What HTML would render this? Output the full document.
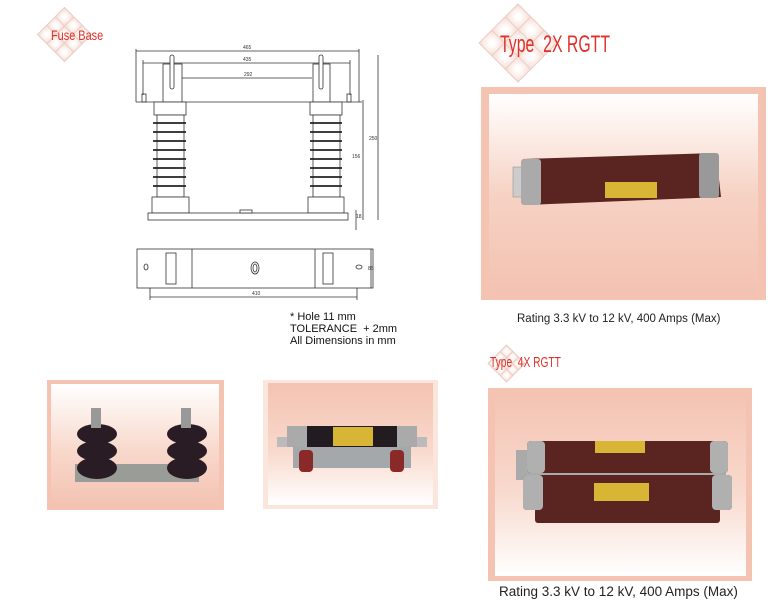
<!DOCTYPE html>
<html><head><meta charset="utf-8"><style>
*{margin:0;padding:0}
body{width:780px;height:600px;position:relative;background:#fff;overflow:hidden;font-family:"Liberation Sans",sans-serif}
.dia{position:absolute;transform:rotate(45deg);display:grid;grid-template-columns:1fr 1fr 1fr;gap:1px;background:#e8cfc8;border:1px solid #e8cfc8}
.dia div{background:radial-gradient(circle,#fff 20%,#f8ddd5 100%)}
.t{position:absolute;color:#e0302a;transform-origin:0 0;white-space:nowrap;line-height:1}
.cap{position:absolute;font-size:11.5px;color:#222;white-space:nowrap}
.pan{position:absolute}
</style></head><body>

<div class="dia" style="left:45px;top:15px;width:37px;height:37px"><div></div><div></div><div></div><div></div><div></div><div></div><div></div><div></div><div></div></div>
<div class="t" style="left:51px;top:28px;font-size:14px;transform:scaleX(0.78)">Fuse Base</div>

<div class="dia" style="left:490px;top:15px;width:54px;height:54px"><div></div><div></div><div></div><div></div><div></div><div></div><div></div><div></div><div></div></div>
<div class="t" style="left:500px;top:33px;font-size:24px;transform:scaleX(0.66)">Type&nbsp; 2X RGTT</div>

<div class="dia" style="left:493px;top:350px;width:25px;height:25px"><div></div><div></div><div></div><div></div><div></div><div></div><div></div><div></div><div></div></div>
<div class="t" style="left:490px;top:355px;font-size:15px;transform:scaleX(0.68)">Type&nbsp; 4X RGTT</div>

<svg style="position:absolute;left:0;top:0" width="780" height="600">
<g stroke="#333" stroke-width="0.8" fill="none">
<line x1="136" y1="51" x2="359" y2="51"/><line x1="136" y1="49" x2="136" y2="102"/>
<line x1="359" y1="49" x2="359" y2="102"/>
<line x1="143" y1="63" x2="350" y2="63"/><line x1="143" y1="60" x2="143" y2="95"/><line x1="350" y1="60" x2="350" y2="95"/>
<line x1="182" y1="78" x2="312" y2="78"/>
<line x1="136" y1="102" x2="362" y2="102"/>
<rect x="163" y="64" width="19" height="38" fill="#fff"/>
<rect x="170" y="55" width="4" height="34" rx="2" fill="#fff"/>
<rect x="154" y="102" width="32" height="13" fill="#fff"/>
<rect x="157" y="115" width="27" height="82" fill="#fff"/>
<rect x="152" y="197" width="37" height="16" fill="#fff"/>
<rect x="313" y="64" width="17" height="38" fill="#fff"/>
<rect x="319" y="55" width="4" height="34" rx="2" fill="#fff"/>
<rect x="310" y="102" width="32" height="13" fill="#fff"/>
<rect x="313" y="115" width="27" height="82" fill="#fff"/>
<rect x="308" y="197" width="36" height="16" fill="#fff"/>
<rect x="148" y="213" width="200" height="7" fill="#fff"/>
<rect x="240" y="210" width="12" height="3" fill="#fff"/>
<rect x="142" y="94" width="4" height="8"/><rect x="347" y="94" width="4" height="8"/>
<line x1="363" y1="100" x2="363" y2="220"/><line x1="378" y1="55" x2="378" y2="220"/>
<line x1="356" y1="210" x2="356" y2="230"/>
<rect x="137" y="249" width="236" height="39" fill="#fff"/>
<line x1="192" y1="249" x2="192" y2="288"/><line x1="315" y1="249" x2="315" y2="288"/>
<rect x="166" y="253" width="10" height="31"/><rect x="323" y="253" width="10" height="31"/>
<ellipse cx="255" cy="268" rx="4" ry="6"/><ellipse cx="255" cy="268" rx="2" ry="4"/>
<ellipse cx="146" cy="267" rx="2" ry="3"/><ellipse cx="359" cy="267" rx="3" ry="2"/>
<line x1="150" y1="297" x2="357" y2="297"/><line x1="150" y1="288" x2="150" y2="300"/><line x1="357" y1="288" x2="357" y2="300"/>
<line x1="371" y1="249" x2="371" y2="288"/>
</g>
<g stroke="#222" stroke-width="1.8">
<line x1="153" y1="123" x2="186" y2="123"/><line x1="153" y1="132" x2="186" y2="132"/><line x1="153" y1="141" x2="186" y2="141"/><line x1="153" y1="150" x2="186" y2="150"/><line x1="153" y1="159" x2="186" y2="159"/><line x1="153" y1="168" x2="186" y2="168"/><line x1="153" y1="177" x2="186" y2="177"/><line x1="153" y1="186" x2="186" y2="186"/>
<line x1="310" y1="123" x2="342" y2="123"/><line x1="310" y1="132" x2="342" y2="132"/><line x1="310" y1="141" x2="342" y2="141"/><line x1="310" y1="150" x2="342" y2="150"/><line x1="310" y1="159" x2="342" y2="159"/><line x1="310" y1="168" x2="342" y2="168"/><line x1="310" y1="177" x2="342" y2="177"/><line x1="310" y1="186" x2="342" y2="186"/>
</g>
<g font-size="5" fill="#333" font-family="Liberation Sans">
<text x="243" y="49">465</text><text x="243" y="61">435</text><text x="244" y="76">292</text>
<text x="352" y="158">156</text><text x="369" y="140">250</text><text x="356" y="218">18</text>
<text x="252" y="295">410</text><text x="368" y="270">85</text>
</g>
</svg>

<div style="position:absolute;left:290px;top:311px;font-size:11px;line-height:12px;color:#111">* Hole 11 mm<br>TOLERANCE&nbsp; + 2mm<br>All Dimensions in mm</div>

<div class="pan" style="left:481px;top:87px;width:285px;height:213px;background:#f4c3b2">
<div style="position:absolute;left:8px;top:7px;right:8px;bottom:4px;background:linear-gradient(#fff,#f6d2c4 50%,#f3c2b1)"></div></div>
<svg style="position:absolute;left:481px;top:87px" width="285" height="213">
<rect x="32" y="80" width="12" height="30" fill="#ccc" stroke="#888" stroke-width="0.5"/>
<rect x="225" y="74" width="12" height="30" fill="#ccc" stroke="#888" stroke-width="0.5"/>
<polygon points="42,72 235,66 240,110 45,118" fill="#5a2420"/>
<rect x="40" y="72" width="20" height="46" rx="3" fill="#aaa"/>
<rect x="218" y="66" width="20" height="45" rx="3" fill="#999"/>
<rect x="124" y="95" width="52" height="16" fill="#d9b535"/>
</svg>
<div class="cap" style="left:517px;top:313px">Rating 3.3 kV to 12 kV, 400 Amps (Max)</div>

<div class="pan" style="left:488px;top:388px;width:264px;height:193px;background:#f4c3b2">
<div style="position:absolute;left:7px;top:4px;right:6px;bottom:5px;background:linear-gradient(#f4c3b2,#f8dace 55%,#fff)"></div></div>
<svg style="position:absolute;left:488px;top:388px" width="264" height="193">
<rect x="28" y="62" width="210" height="30" fill="#aaa"/>
<rect x="47" y="120" width="185" height="15" rx="3" fill="#5a2420"/>
<rect x="39" y="53" width="201" height="32" rx="4" fill="#5a2420"/>
<rect x="39" y="53" width="18" height="32" rx="4" fill="#b0b0b0"/><rect x="222" y="53" width="18" height="32" rx="4" fill="#b0b0b0"/>
<rect x="35" y="87" width="209" height="35" rx="4" fill="#5a2420"/>
<rect x="35" y="87" width="20" height="35" rx="4" fill="#b0b0b0"/><rect x="224" y="87" width="20" height="35" rx="4" fill="#b0b0b0"/>
<rect x="107" y="53" width="50" height="12" fill="#d9b535"/>
<rect x="106" y="95" width="55" height="18" fill="#d9b535"/>
</svg>
<div class="cap" style="left:499px;top:584px;font-size:13.5px">Rating 3.3 kV to 12 kV, 400 Amps (Max)</div>

<div class="pan" style="left:47px;top:380px;width:177px;height:130px;background:#f4c3b2">
<div style="position:absolute;left:4px;top:4px;right:5px;bottom:3px;background:linear-gradient(#fff,#f8d8cb 55%,#f3c2b1)"></div></div>
<svg style="position:absolute;left:47px;top:380px" width="177" height="130">
<rect x="28" y="84" width="124" height="18" fill="#9a9c98"/>
<ellipse cx="50" cy="54" rx="20" ry="10" fill="#2a1c24"/><ellipse cx="50" cy="71" rx="20" ry="10" fill="#2a1c24"/><ellipse cx="50" cy="88" rx="20" ry="11" fill="#2a1c24"/>
<ellipse cx="140" cy="54" rx="20" ry="10" fill="#2a1c24"/><ellipse cx="140" cy="71" rx="20" ry="10" fill="#2a1c24"/><ellipse cx="140" cy="88" rx="20" ry="11" fill="#2a1c24"/>
<rect x="44" y="28" width="10" height="20" fill="#999"/><rect x="134" y="28" width="10" height="20" fill="#999"/>
</svg>

<div class="pan" style="left:263px;top:380px;width:175px;height:129px;background:#fbe6de">
<div style="position:absolute;left:5px;top:3px;right:5px;bottom:4px;background:linear-gradient(#f4c3b2,#f8d8cb 55%,#fff)"></div></div>
<svg style="position:absolute;left:263px;top:380px" width="175" height="129">
<rect x="30" y="66" width="118" height="22" fill="#a5a8aa"/>
<rect x="36" y="70" width="14" height="22" rx="4" fill="#8a2a28"/><rect x="127" y="70" width="14" height="22" rx="4" fill="#8a2a28"/>
<rect x="14" y="57" width="150" height="10" fill="#bbb"/>
<rect x="24" y="46" width="130" height="21" fill="#221c20"/>
<rect x="24" y="46" width="20" height="21" fill="#aaa"/><rect x="134" y="46" width="20" height="21" fill="#aaa"/>
<rect x="70" y="47" width="40" height="19" fill="#d9b535"/>
</svg>
</body></html>
